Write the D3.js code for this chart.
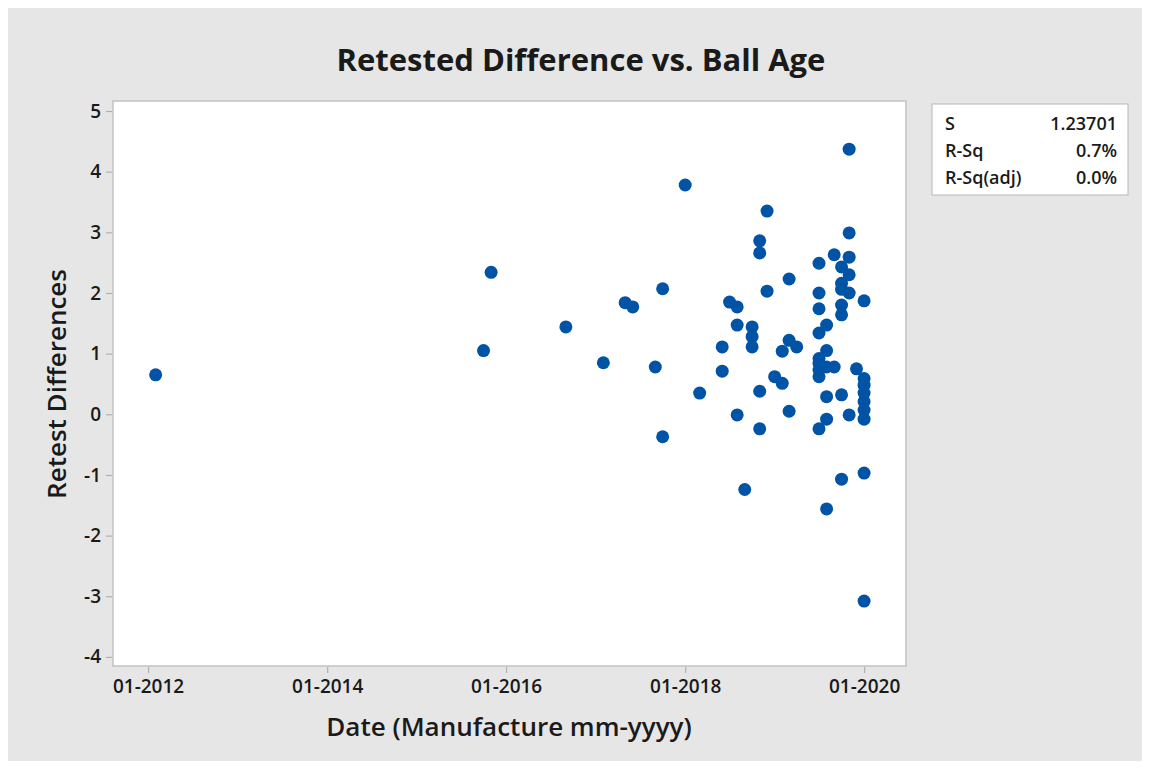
<!DOCTYPE html>
<html>
<head>
<meta charset="utf-8">
<script src="https://cdn.jsdelivr.net/npm/d3@7"></script>
<style>
  html, body { margin: 0; padding: 0; background: #ffffff; }
  svg { display: block; }
  text { font-family: "Open Sans", "Noto Sans", sans-serif; }
</style>
</head>
<body>
<svg id="chart" width="1150" height="769"></svg>
<script>
// ---- Data ----
const title = "Retested Difference vs. Ball Age";
const xLabel = "Date (Manufacture mm-yyyy)";
const yLabel = "Retest Differences";

// manufacture month (yyyy-mm) of each ball
const dates = [
  "2012-02",
  "2015-10", "2015-11",
  "2016-09",
  "2017-02", "2017-05", "2017-06", "2017-09", "2017-10", "2017-10",
  "2018-01", "2018-03", "2018-06", "2018-06", "2018-07",
  "2018-08", "2018-08", "2018-08", "2018-09",
  "2018-10", "2018-10", "2018-10",
  "2018-11", "2018-11", "2018-11", "2018-11",
  "2018-12", "2018-12",
  "2019-01", "2019-02", "2019-02",
  "2019-03", "2019-03", "2019-03", "2019-04",
  "2019-07", "2019-07", "2019-07", "2019-07", "2019-07", "2019-07", "2019-07", "2019-07", "2019-07",
  "2019-08", "2019-08", "2019-08", "2019-08", "2019-08", "2019-08",
  "2019-09", "2019-09",
  "2019-10", "2019-10", "2019-10", "2019-10", "2019-10", "2019-10", "2019-10",
  "2019-11", "2019-11", "2019-11", "2019-11", "2019-11", "2019-11",
  "2019-12",
  "2020-01", "2020-01", "2020-01", "2020-01", "2020-01", "2020-01", "2020-01", "2020-01", "2020-01"
];

// retest difference of each ball (same order as dates)
const differences = [
  0.65,
  1.05, 2.34,
  1.44,
  0.85, 1.84, 1.77, 0.78, 2.07, -0.37,
  3.78, 0.35, 1.11, 0.71, 1.85,
  1.77, 1.47, -0.01, -1.24,
  1.44, 1.28, 1.11,
  2.86, 2.66, 0.38, -0.24,
  3.35, 2.03,
  0.62, 1.04, 0.51,
  2.23, 1.22, 0.05, 1.11,
  2.49, 2.00, 1.74, 1.34, 0.92, 0.84, 0.73, 0.62, -0.24,
  1.47, 1.05, 0.78, 0.29, -0.08, -1.56,
  2.63, 0.78,
  2.43, 2.16, 2.06, 1.80, 1.64, 0.32, -1.07,
  4.37, 2.99, 2.59, 2.30, 2.00, -0.01,
  0.75,
  1.87, 0.59, 0.48, 0.35, 0.21, 0.07, -0.08, -0.97, -3.08
];

const xTickDates = ["2012-01", "2014-01", "2016-01", "2018-01", "2020-01"];
const yTickValues = [-4, -3, -2, -1, 0, 1, 2, 3, 4, 5];

const statLabels = ["S", "R-Sq", "R-Sq(adj)"];
const statValues = ["1.23701", "0.7%", "0.0%"];

// ---- Drawing ----
const parseMonth = d3.timeParse("%Y-%m");
const points = dates.map((d, i) => ({ date: parseMonth(d), value: differences[i] }));

const svg = d3.select("#chart");
const W = 1150, H = 769;

// background
svg.append("rect").attr("x", 0).attr("y", 0).attr("width", W).attr("height", H).attr("fill", "#ffffff");
svg.append("rect").attr("x", 8).attr("y", 8).attr("width", 1134).attr("height", 753).attr("fill", "#e6e6e6");

const plot = { left: 113, right: 906, top: 101, bottom: 666 };

const x = d3.scaleTime()
  .domain([new Date(2011, 7, 11), new Date(2020, 5, 20)])
  .range([plot.left, plot.right]);
const y = d3.scaleLinear()
  .domain([-4.15, 5.165])
  .range([plot.bottom, plot.top]);

// plot area
svg.append("rect")
  .attr("x", plot.left).attr("y", plot.top)
  .attr("width", plot.right - plot.left).attr("height", plot.bottom - plot.top)
  .attr("fill", "#ffffff").attr("stroke", "#c2c2c2").attr("stroke-width", 1.5);

// axes
const xAxis = d3.axisBottom(x)
  .tickValues(xTickDates.map(parseMonth))
  .tickFormat(d3.timeFormat("%m-%Y"))
  .tickSize(6).tickSizeOuter(0).tickPadding(7);
const gx = svg.append("g").attr("transform", `translate(0,${plot.bottom + 1})`).call(xAxis);
gx.select(".domain").remove();
gx.selectAll(".tick line").attr("stroke", "#b0b0b0").attr("stroke-width", 1.2);
gx.selectAll(".tick text").attr("fill", "#1a1a1a").attr("font-size", 19).attr("font-weight", 600);

const yAxis = d3.axisLeft(y)
  .tickValues(yTickValues)
  .tickFormat(d => String(d))
  .tickSize(6).tickSizeOuter(0).tickPadding(5);
const gy = svg.append("g").attr("transform", `translate(${plot.left - 1},0)`).call(yAxis);
gy.select(".domain").remove();
gy.selectAll(".tick line").attr("stroke", "#b0b0b0").attr("stroke-width", 1.2);
gy.selectAll(".tick text").attr("fill", "#1a1a1a").attr("font-size", 19).attr("font-weight", 600);

// points
svg.append("g").selectAll("circle")
  .data(points)
  .join("circle")
  .attr("cx", d => x(d.date))
  .attr("cy", d => y(d.value))
  .attr("r", 6.5)
  .attr("fill", "#0154a5");

// title and axis titles
svg.append("text")
  .attr("x", 581).attr("y", 71)
  .attr("text-anchor", "middle")
  .attr("font-size", 31).attr("font-weight", 700).attr("fill", "#1a1a1a")
  .text(title);

svg.append("text")
  .attr("x", 509).attr("y", 736)
  .attr("text-anchor", "middle")
  .attr("font-size", 26).attr("font-weight", 600).attr("fill", "#1a1a1a")
  .text(xLabel);

svg.append("text")
  .attr("transform", `translate(66,384) rotate(-90)`)
  .attr("text-anchor", "middle")
  .attr("font-size", 26).attr("font-weight", 600).attr("fill", "#1a1a1a")
  .text(yLabel);

// stats box
const box = { x: 932, y: 104, w: 196, h: 91 };
svg.append("rect")
  .attr("x", box.x).attr("y", box.y).attr("width", box.w).attr("height", box.h)
  .attr("fill", "#ffffff").attr("stroke", "#b8b8b8").attr("stroke-width", 1);
const rows = svg.append("g").selectAll("g").data(statLabels).join("g")
  .attr("transform", (d, i) => `translate(0,${box.y + 26 + i * 27})`);
rows.append("text").attr("x", box.x + 13).attr("font-size", 18).attr("font-weight", 600)
  .attr("fill", "#1a1a1a").text(d => d);
rows.append("text").attr("x", box.x + box.w - 11).attr("text-anchor", "end")
  .attr("font-size", 18).attr("font-weight", 600).attr("fill", "#1a1a1a")
  .text((d, i) => statValues[i]);
</script>
</body>
</html>
